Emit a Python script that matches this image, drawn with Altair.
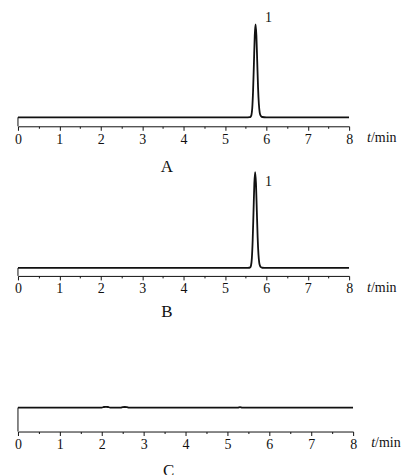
import altair as alt
import pandas as pd

# ---- data ----
time_a = [0, 1, 2, 3, 4, 5, 5.5, 5.6, 5.62, 5.64, 5.66, 5.68, 5.70, 5.72, 5.74, 5.76,
          5.78, 5.80, 5.82, 5.84, 5.86, 5.88, 5.9, 6.0, 7, 8]
sig_a = [0, 0, 0, 0, 0, 0, 0, 0.2, 0.6, 2.5, 10, 29, 58, 88, 100, 88,
         60, 32, 14, 5, 2, 0.8, 0.3, 0, 0, 0]

time_b = [0, 1, 2, 2.5, 3, 4, 5, 5.5, 5.59, 5.61, 5.63, 5.65, 5.67, 5.69, 5.71, 5.73,
          5.75, 5.77, 5.79, 5.81, 5.83, 5.85, 5.87, 5.9, 6.0, 7, 8]
sig_b = [0, 0, 0, 0, 0, 0, 0, 0, 0.2, 0.6, 2.5, 10, 29, 58, 88, 100,
         88, 60, 32, 14, 5, 2, 0.8, 0.2, 0, 0, 0]

time_c = [0, 2.0, 2.05, 2.1, 2.15, 2.2, 2.45, 2.5, 2.55, 2.6, 2.65, 5.25, 5.3, 5.35, 8]
sig_c = [0, 0, 0.6, 0.8, 0.6, 0, 0, 0.5, 0.6, 0.5, 0, 0, 0.4, 0, 0]

panel_letters = ["A", "B", "C"]
peak_labels = ["1", "1", ""]
x_ticks = [v / 2 for v in range(0, 17)]

FONT = "Liberation Serif"
INK = "#111111"


def panel(times, values, ydom, w, h, letter, letter_dy, peak_label, peak_pos, unit_x):
    df = pd.DataFrame({"t": times, "s": values})
    xenc = alt.X(
        "t:Q",
        scale=alt.Scale(domain=[0, 8], nice=False, zero=False),
        axis=alt.Axis(
            values=x_ticks,
            labelExpr="datum.value % 1 === 0 ? format(datum.value, 'd') : ''",
            tickSize={"condition": {"test": "datum.value % 1 !== 0", "value": 2}, "value": 4},
            labelFlush=False,
            labelOverlap=False,
            grid=False,
            title="",
        ),
    )
    yenc = alt.Y("s:Q", scale=alt.Scale(domain=ydom, nice=False, zero=False), axis=None)

    line = alt.Chart(df).mark_line(
        color=INK, strokeWidth=1.8, interpolate="monotone", clip=True
    ).encode(x=xenc, y=yenc)

    rule_df = pd.DataFrame({"t": [0], "s": [ydom[0]], "s2": [0]})
    vrule = alt.Chart(rule_df).mark_rule(color=INK, strokeWidth=1).encode(
        x=xenc, y=yenc, y2="s2:Q"
    )

    layers = [line, vrule]

    if peak_label:
        layers.append(
            alt.Chart(pd.DataFrame({"t": [peak_pos[0]], "s": [peak_pos[1]], "lab": [peak_label]}))
            .mark_text(font=FONT, fontSize=14, color=INK, baseline="middle")
            .encode(x=xenc, y=yenc, text="lab:N")
        )

    layers.append(
        alt.Chart(pd.DataFrame({"t": [3.6], "lab": [letter]}))
        .mark_text(font=FONT, fontSize=17, color=INK, baseline="middle")
        .encode(x=xenc, y=alt.value(h + letter_dy), text="lab:N")
    )
    layers.append(
        alt.Chart(pd.DataFrame({"t": [unit_x], "lab": ["t"]}))
        .mark_text(font=FONT, fontSize=14, fontStyle="italic", color=INK,
                   baseline="middle", align="left")
        .encode(x=xenc, y=alt.value(h + 12), text="lab:N")
    )
    layers.append(
        alt.Chart(pd.DataFrame({"t": [unit_x], "lab": ["/min"]}))
        .mark_text(font=FONT, fontSize=14, color=INK, baseline="middle", align="left", dx=4)
        .encode(x=xenc, y=alt.value(h + 12), text="lab:N")
    )

    return alt.layer(*layers).properties(width=w, height=h)


pa = panel(time_a, sig_a, [-9.7, 116.1], 332, 117, panel_letters[0], 41,
           peak_labels[0], (6.05, 106.5), 8.43)
pb = panel(time_b, sig_b, [-8.3, 113.5], 332, 117, panel_letters[1], 36,
           peak_labels[1], (6.05, 89.6), 8.43)
pc = panel(time_c, sig_c, [-25, 103.1], 336, 123, panel_letters[2], 40,
           peak_labels[2], (0, 0), 8.43)

chart = (
    alt.vconcat(pa, pb, pc, spacing=33, bounds="flush")
    .properties(
        padding={"left": 14, "top": 9, "right": 0, "bottom": 0},
        background="white",
    )
    .configure(font=FONT)
    .configure_view(strokeOpacity=0)
    .configure_axis(
        labelFont=FONT,
        labelFontSize=14,
        labelColor=INK,
        labelPadding=2,
        tickColor=INK,
        domainColor=INK,
        domainWidth=1,
        tickWidth=1,
    )
)

chart.save("out.html", embed_options={"renderer": "svg", "actions": False})
